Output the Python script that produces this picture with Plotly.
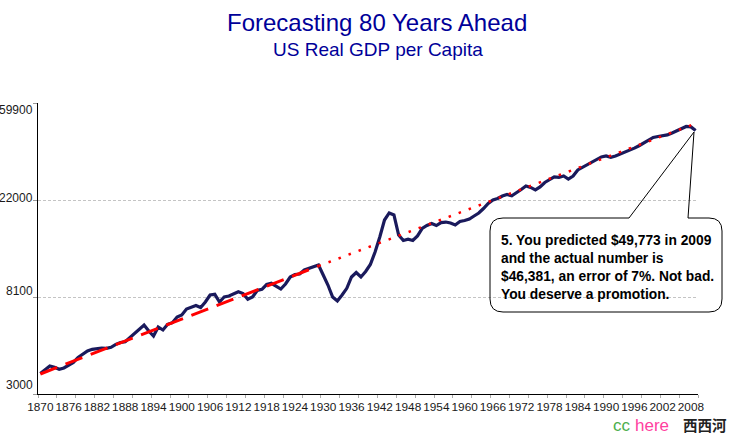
import plotly.graph_objects as go

# ---- data ----
years = list(range(1870, 2010))
gdp = [3705, 3860, 4000, 3950, 3870, 3920, 4020, 4150, 4370, 4530,
       4670, 4750, 4790, 4815, 4800, 4850, 5000, 5095, 5138, 5364,
       5563, 5796, 6103, 5736, 5450, 5978, 5796, 6148, 6250, 6626,
       6763, 7190, 7340, 7456, 7304, 7731, 8308, 8368, 7731, 8138,
       8222, 8395, 8585, 8437, 7950, 8138, 8703, 8810, 9255, 9370,
       9070, 8837, 9303, 9998, 10260, 10310, 10745, 10912, 11082, 11313,
       10205, 9207, 8138, 7810, 8308, 8900, 9998, 10470, 9998, 10580,
       11370, 12930, 15090, 17970, 19320, 18930, 15400, 14560, 14740, 14560,
       15250, 16470, 16980, 17340, 16980, 17510, 17600, 17420, 17070, 17700,
       17880, 18160, 18730, 19320, 20230, 21300, 22080, 22420, 23010, 23370,
       23060, 23730, 24600, 25500, 25120, 24480, 25250, 26440, 27330, 27980,
       27850, 28270, 27410, 28270, 30080, 30930, 31830, 32660, 33510, 34390,
       34740, 34280, 34740, 35390, 36200, 36760, 37650, 38590, 39710, 40870,
       42020, 42460, 42680, 43120, 44020, 44930, 46100, 47060, 46850, 45170]

trend_years = [1870, 1929]
trend_values = [3686, 11194]
forecast_years = [1929, 2009]
forecast_values = [11194, 48500]

x_ticks = list(range(1870, 2009, 6))
y_ticks = [3000, 8100, 22000, 59900]
y_ticktext = ["3000", "8100", "22000", "59900"]

title = "Forecasting 80 Years Ahead"
subtitle = "US Real GDP per Capita"
note_lines = ["5. You predicted $49,773 in 2009",
              "and the actual number is",
              "$46,381, an error of 7%. Not bad.",
              "You deserve a promotion."]

# ---- layout geometry ----
W, H = 735, 435
L, R, T, B = 38, 37, 103, 41
PW, PH = W - L - R, H - T - B


def px(x):
    return (x - L) / PW


def py(y):
    return (H - B - y) / PH


fig = go.Figure()
fig.add_trace(go.Scatter(x=years, y=gdp, mode="lines",
                         line=dict(color="#1a1a5c", width=3.2),
                         hoverinfo="skip", showlegend=False))
fig.add_trace(go.Scatter(x=trend_years, y=trend_values, mode="lines",
                         line=dict(color="#ff0000", width=3, dash="18px,9px"),
                         hoverinfo="skip", showlegend=False))
fig.add_trace(go.Scatter(x=forecast_years, y=forecast_values, mode="lines",
                         line=dict(color="#ff0000", width=2.5, dash="2.5px,8.2px"),
                         hoverinfo="skip", showlegend=False))

font_main = "Liberation Sans, Arial, sans-serif"

fig.update_layout(
    width=W, height=H,
    margin=dict(l=L, r=R, t=T, b=B),
    paper_bgcolor="white", plot_bgcolor="white",
    font=dict(family=font_main, color="#1a1a1a", size=11.5),
    xaxis=dict(range=[1869.5, 2009.5], tickmode="array", tickvals=x_ticks,
               ticktext=[str(v) for v in x_ticks], showgrid=False, zeroline=False,
               showline=True, linecolor="black", linewidth=1, ticks="",
               tickangle=0, ticklabelstandoff=2,
               tickfont=dict(size=11.8, color="#1a1a1a"),
               minor=dict(tickmode="linear", tick0=1869.5, dtick=4, ticks="outside",
                          ticklen=3, tickcolor="#aaaaaa", showgrid=False)),
    yaxis=dict(type="log", range=[3.47712, 4.77743], tickmode="array",
               tickvals=y_ticks, ticktext=y_ticktext, showticklabels=False,
               showgrid=True,
               gridcolor="#c4c4c4", griddash="3px,2px", gridwidth=1, zeroline=False,
               showline=True, linecolor="black", linewidth=1, ticks="outside",
               ticklen=4, tickcolor="#999999"),
)

# y tick labels placed as in the reference
label_px = [385, 291, 198, 110]
for txt, ypx in zip(y_ticktext, label_px):
    fig.add_annotation(text=txt, x=px(34.5), y=py(ypx), xref="paper", yref="paper",
                       xanchor="right", yanchor="middle", showarrow=False,
                       font=dict(size=12, color="#1a1a1a", family=font_main))

# titles
fig.add_annotation(text=title, x=px(377), y=py(22), xref="paper", yref="paper",
                   xanchor="center", yanchor="middle", showarrow=False,
                   font=dict(size=24, color="#000099", family=font_main))
fig.add_annotation(text=subtitle, x=px(378), y=py(49), xref="paper", yref="paper",
                   xanchor="center", yanchor="middle", showarrow=False,
                   font=dict(size=19, color="#000099", family=font_main))

# callout box
bl, br, bt, bb, r = 490, 722, 218, 312, 13
tip = (694, 132)
p1, p2 = 629, 688
path = f"M {px(bl + r)},{py(bt)} L {px(p1)},{py(bt)} L {px(tip[0])},{py(tip[1])} "
path += f"L {px(p2)},{py(bt)} L {px(br - r)},{py(bt)} "
path += f"Q {px(br)},{py(bt)} {px(br)},{py(bt + r)} L {px(br)},{py(bb - r)} "
path += f"Q {px(br)},{py(bb)} {px(br - r)},{py(bb)} L {px(bl + r)},{py(bb)} "
path += f"Q {px(bl)},{py(bb)} {px(bl)},{py(bb - r)} L {px(bl)},{py(bt + r)} "
path += f"Q {px(bl)},{py(bt)} {px(bl + r)},{py(bt)} Z"
fig.add_shape(type="path", path=path, xref="paper", yref="paper",
              line=dict(color="black", width=1), fillcolor="rgba(0,0,0,0)")

fig.add_annotation(text="<br>".join("<b>" + s + "</b>" for s in note_lines),
                   x=px(499), y=py(267), xref="paper", yref="paper",
                   xanchor="left", yanchor="middle", align="left", showarrow=False,
                   font=dict(size=13.8, color="black", family=font_main))

# watermark
wm_y = 425.5
fig.add_annotation(text="cc", x=px(612), y=py(wm_y), xref="paper", yref="paper",
                   xanchor="left", yanchor="middle", showarrow=False, borderpad=0,
                   font=dict(size=17, color="#4cae4c", family=font_main))
fig.add_annotation(text="here", x=px(634), y=py(wm_y), xref="paper", yref="paper",
                   xanchor="left", yanchor="middle", showarrow=False, borderpad=0,
                   font=dict(size=17, color="#ff3fa0", family=font_main))
fig.add_annotation(text="<b>西西河</b>", x=px(682), y=py(424.6), xref="paper", yref="paper",
                   xanchor="left", yanchor="middle", showarrow=False, borderpad=0,
                   font=dict(size=14.5, color="#222222", family="Noto Sans CJK SC"))

fig.write_html("out.html")
